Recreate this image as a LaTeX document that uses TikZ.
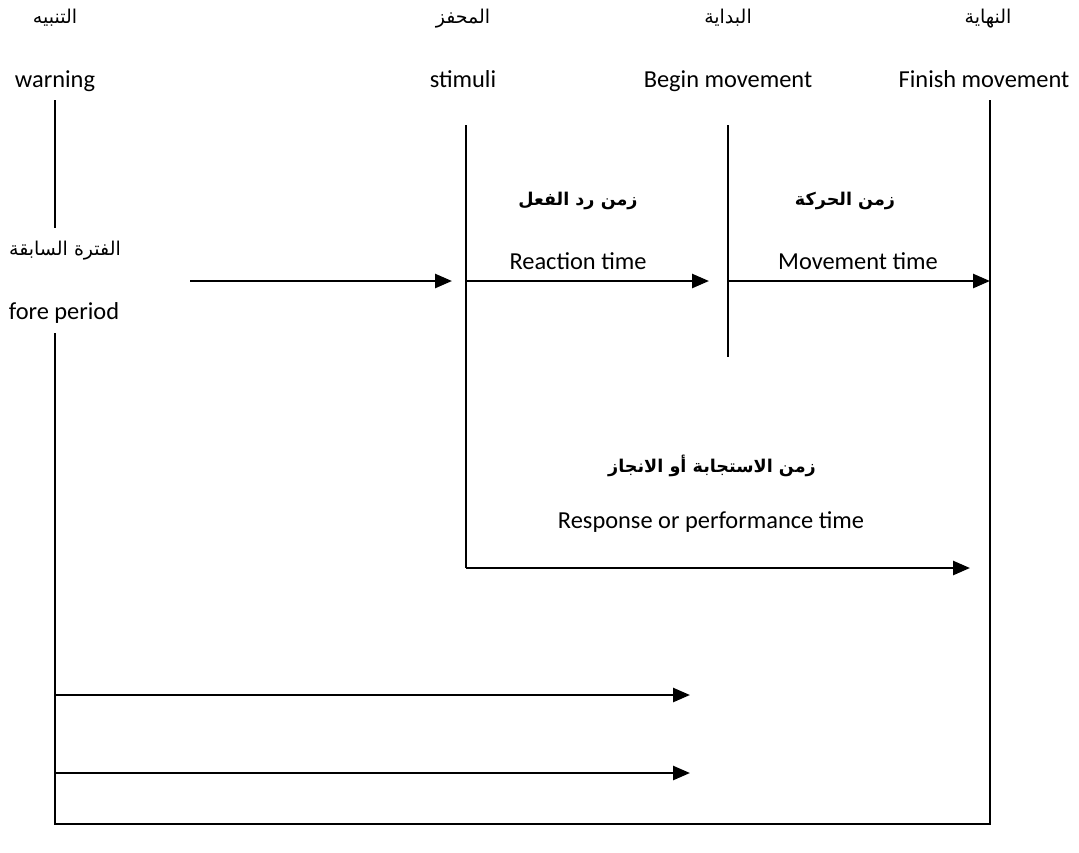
\documentclass[tikz,border=0pt]{standalone}
\usepackage{fontspec}
\setmainfont{Carlito}
\newfontfamily\arabicfont[Script=Arabic]{DejaVu Sans}
\TeXXeTstate=1
\usetikzlibrary{arrows.meta}
\tikzset{
  timearrow/.style={-{Triangle[length=8.5pt,width=7pt]},line width=1.3pt},
  engtxt/.style={font=\fontsize{12.2}{14}\selectfont,text height=10pt,text depth=2.5pt},
  arabtxt/.style={font=\fontsize{9.5}{11}\arabicfont,text height=8pt,text depth=3pt},
  arabbold/.style={font=\fontsize{8.8}{10}\arabicfont\bfseries,text height=8pt,text depth=3pt},
}
\begin{document}
\begin{tikzpicture}[x=0.5pt,y=-0.5pt,line width=0.85pt]
  \useasboundingbox (0,0) rectangle (1079,852);
  % column headings
  \node[arabtxt] (arWarn) at (55,18) {\beginR التنبيه\endR};
  \node[engtxt] (warning) at (55,80) {warning};
  \node[arabtxt] (arStim) at (463,18) {\beginR المحفز\endR};
  \node[engtxt] (stimuli) at (463,80) {stimuli};
  \node[arabtxt] (arBegin) at (728,18) {\beginR البداية\endR};
  \node[engtxt] (begin) at (728,80) {Begin movement};
  \node[arabtxt] (arFinish) at (988,18) {\beginR النهاية\endR};
  \node[engtxt] (finish) at (984,80) {Finish movement};
  \node[arabtxt] (arFore) at (65,250) {\beginR الفترة السابقة\endR};
  \node[engtxt] (fore) at (64,312) {fore period};

  \coordinate (W0) at (55,100);
  \coordinate (W1) at (55,228);
  \coordinate (W2) at (55,333);
  \coordinate (W3) at (55,824);
  \coordinate (F0) at (990,100);
  \coordinate (F1) at (990,824);
  \coordinate (S0) at (466,125);
  \coordinate (S1) at (466,568);
  \coordinate (B0) at (728,125);
  \coordinate (B1) at (728,357);
  \draw (W0)--(W1);
  \draw (W2)--(W3)--(F1)--(F0);
  \draw (S0)--(S1);
  \draw (B0)--(B1);

  % intervals on the time line
  \coordinate (P0) at (190,281);
  \coordinate (P1) at (452,281);
  \draw[timearrow] (P0)--(P1);
  \draw[timearrow] (S0|-P0)--(709,281);
  \draw[timearrow] (B0|-P0)--(F0|-P0);
  \node[arabbold] (arReact) at (578,200) {\beginR زمن رد الفعل\endR};
  \node[engtxt] (react) at (578,262) {Reaction time};
  \node[arabbold] (arMove) at (845,200) {\beginR زمن الحركة\endR};
  \node[engtxt] (move) at (858,262) {Movement time};

  \draw[timearrow] (S1)--(970,568);
  \node[arabbold] (arResp) at (712,467) {\beginR زمن الاستجابة أو الانجاز\endR};
  \node[engtxt] (resp) at (711,521) {Response or performance time};

  \draw[timearrow] (55,695)--(690,695);
  \draw[timearrow] (55,773)--(690,773);
\end{tikzpicture}
\end{document}
